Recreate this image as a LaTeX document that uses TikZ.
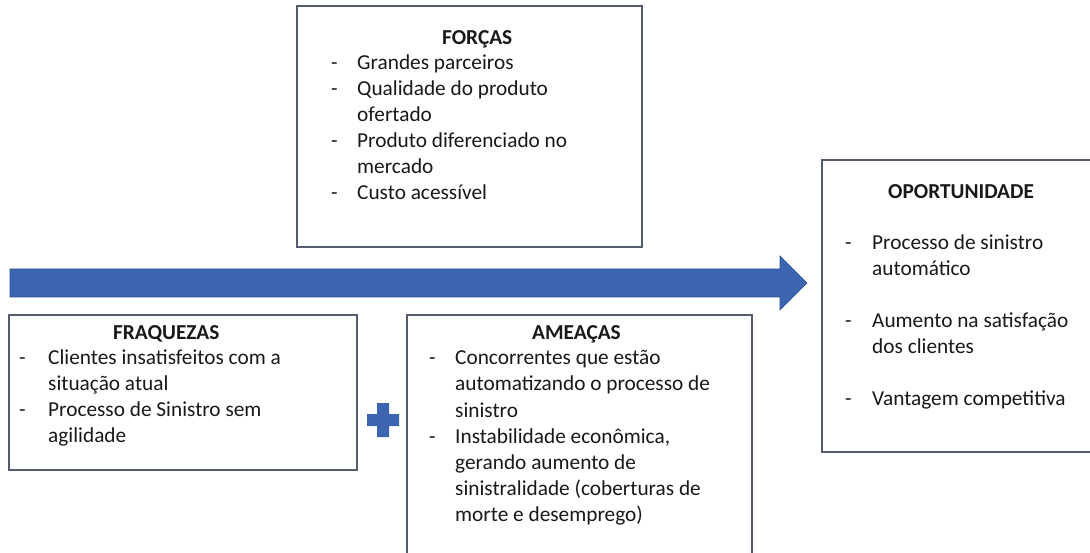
\documentclass[tikz,border=0pt]{standalone}
\usepackage{fontspec}
\setmainfont{Carlito}
\definecolor{arrowblue}{RGB}{59,101,177}
\definecolor{arrowedge}{RGB}{47,82,143}
\definecolor{boxline}{RGB}{85,92,110}
\definecolor{txt}{RGB}{25,25,25}
\begin{document}
\begin{tikzpicture}[x=1pt,y=-1pt,
  swotbox/.style={draw=boxline, line width=1.1pt, fill=white},
  ln/.style={anchor=base west, inner sep=0pt, font=\fontsize{21.3}{26}\selectfont, text=txt},
  ttl/.style={ln, font=\fontsize{21.3}{26}\selectfont\bfseries},
  dsh/.style={ln}
]
\useasboundingbox (0,0) rectangle (1090,553);
\clip (0,0) rectangle (1090,553);
\fill[white] (0,0) rectangle (1090,553);

% boxes
\draw[swotbox] (297,6) rectangle (642,247);
\draw[swotbox] (9,315) rectangle (357,470);
\draw[swotbox] (407,315) rectangle (752,600);
\draw[swotbox] (822,160) rectangle (1100,452);

% arrow
\draw[fill=arrowblue, draw=arrowedge, line width=0.6pt]
  (10,269) -- (780,269) -- (780,256) -- (807,283) -- (780,310) -- (780,297) -- (10,297) -- cycle;

% plus
\fill[arrowblue] (377,403) -- (389,403) -- (389,414) -- (399,414) -- (399,426) -- (389,426)
  -- (389,437) -- (377,437) -- (377,426) -- (367,426) -- (367,414) -- (377,414) -- cycle;

% FORCAS
\node[ttl] (ft) at (442,45) {FORÇAS};
\node[dsh] (fd1) at (331,70) {-};
\node[ln] (f1) at (357,70) {Grandes parceiros};
\node[dsh] (fd2) at (331,96) {-};
\node[ln] (f2) at (357,96) {Qualidade do produto};
\node[ln] (f3) at (357,122) {ofertado};
\node[dsh] (fd4) at (331,148) {-};
\node[ln] (f4) at (357,148) {Produto diferenciado no};
\node[ln] (f5) at (357,174) {mercado};
\node[dsh] (fd6) at (331,200) {-};
\node[ln] (f6) at (357,200) {Custo acessível};

% FRAQUEZAS
\node[ttl] (wt) at (113,340) {FRAQUEZAS};
\node[dsh] (wd1) at (19,364) {-};
\node[ln] (w1) at (48,364) {Clientes insatisfeitos com a};
\node[ln] (w2) at (48,390) {situação atual};
\node[dsh] (wd3) at (19,416) {-};
\node[ln] (w3) at (48,416) {Processo de Sinistro sem};
\node[ln] (w4) at (48,442) {agilidade};

% AMEACAS
\node[ttl] (at) at (532,340) {AMEAÇAS};
\node[dsh] (ad1) at (429,365) {-};
\node[ln] (a1) at (455,365) {Concorrentes que estão};
\node[ln] (a2) at (455,391) {automatizando o processo de};
\node[ln] (a3) at (455,417) {sinistro};
\node[dsh] (ad4) at (429,443) {-};
\node[ln] (a4) at (455,443) {Instabilidade econômica,};
\node[ln] (a5) at (455,469) {gerando aumento de};
\node[ln] (a6) at (455,495) {sinistralidade (coberturas de};
\node[ln] (a7) at (455,521) {morte e desemprego)};

% OPORTUNIDADE
\node[ttl] (ot) at (888,199) {OPORTUNIDADE};
\node[dsh] (od1) at (845,250) {-};
\node[ln] (o1) at (872,250) {Processo de sinistro};
\node[ln] (o2) at (872,276) {automático};
\node[dsh] (od3) at (845,327) {-};
\node[ln] (o3) at (872,327) {Aumento na satisfação};
\node[ln] (o4) at (872,353) {dos clientes};
\node[dsh] (od5) at (845,405) {-};
\node[ln] (o5) at (872,405) {Vantagem competitiva};
\end{tikzpicture}
\end{document}
